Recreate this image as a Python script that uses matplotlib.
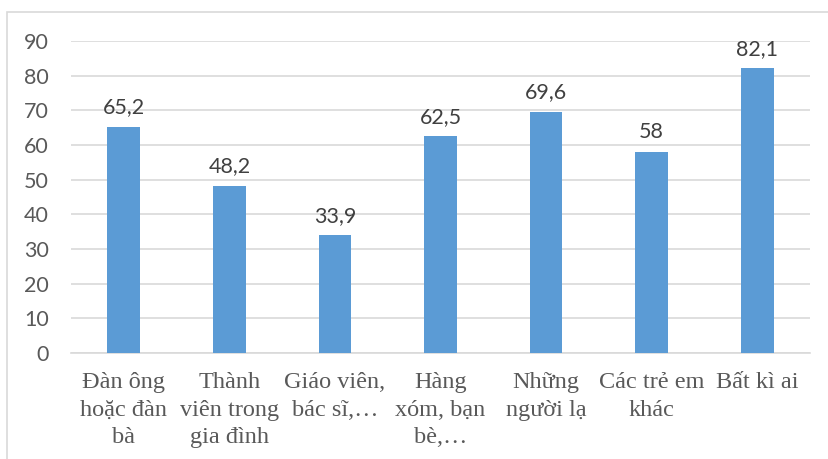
import matplotlib.pyplot as plt
from matplotlib.patches import Rectangle

# Dữ liệu
nhom = ["Đàn ông\nhoặc đàn\nbà", "Thành\nviên trong\ngia đình", "Giáo viên,\nbác sĩ,…",
        "Hàng\nxóm, bạn\nbè,…", "Những\nngười lạ", "Các trẻ em\nkhác", "Bất kì ai"]
gia_tri = [65.2, 48.2, 33.9, 62.5, 69.6, 58, 82.1]
nhan = ["65,2", "48,2", "33,9", "62,5", "69,6", "58", "82,1"]
y_ticks = list(range(0, 100, 10))

fig = plt.figure(figsize=(8.29, 4.59), dpi=100)
ax = fig.add_axes([71 / 829, 1 - 353 / 459, 739 / 829, 312 / 459])

# khung viền
fig.patches.append(Rectangle((7 / 829, -0.1), 1.0, 1 - 12 / 459 + 0.1, transform=fig.transFigure,
                             fill=False, edgecolor="#d9d9d9", linewidth=1.2))

x = range(len(nhom))
ax.bar(x, gia_tri, width=0.31, color="#5b9bd5", zorder=3)
for i, (v, t) in enumerate(zip(gia_tri, nhan)):
    ax.annotate(t, (i, v), xytext=(0, 7), textcoords="offset points", ha="center", va="bottom",
                fontsize=15.5, color="#404040", family="Lato")

ax.set_ylim(0, 90)
ax.set_xlim(-0.5, len(nhom) - 0.5)
ax.set_yticks(y_ticks)
ax.set_yticklabels([str(t) for t in y_ticks], fontsize=15.5, color="#595959", family="Lato")
ax.yaxis.grid(True, color="#d9d9d9", linewidth=1.2, zorder=0)
ax.set_xticks(list(x))
ax.set_xticklabels(nhom, fontsize=17.5, color="#595959", family="Liberation Serif", linespacing=1.38)
ax.tick_params(axis="both", length=0)
ax.tick_params(axis="y", pad=16)
ax.tick_params(axis="x", pad=14)
for s in ["top", "right", "left"]:
    ax.spines[s].set_visible(False)
ax.spines["bottom"].set_color("#d9d9d9")
ax.spines["bottom"].set_linewidth(1.2)

fig.savefig("out.png", dpi=100)
